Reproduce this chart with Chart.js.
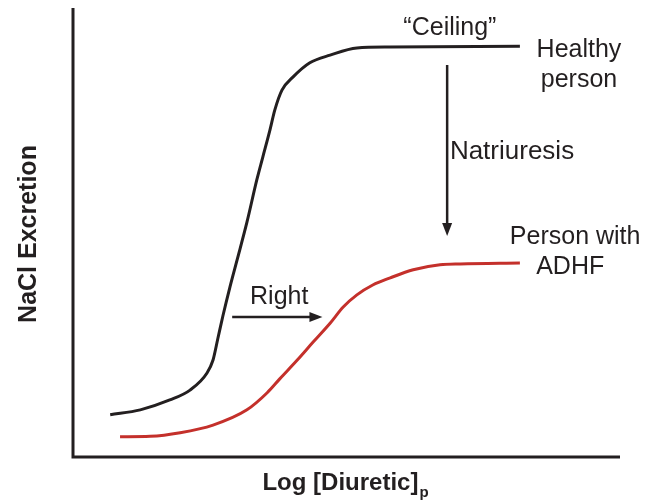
<!DOCTYPE html>
<html>
<head>
<meta charset="utf-8">
<script src="https://cdn.jsdelivr.net/npm/chart.js@4.4.1/dist/chart.umd.min.js"></script>
<style>
  html, body { margin:0; padding:0; background:#fff; }
  #wrap { width:656px; height:503px; }
</style>
</head>
<body>
<div id="wrap"><canvas id="c" width="656" height="503"></canvas></div>
<script>
// curve samples (x: log dose 0-100, y: NaCl excretion 0-100)
const healthyX = [6.8, 12.3, 17.7, 21.4, 24.5, 25.6, 26.5, 27.4, 28.7, 30.0, 31.8, 33.6, 34.7, 36.0, 36.9, 38.2, 40.2, 43.3, 47.0, 51.9, 58.0, 81.7];
const healthyY = [9.4, 10.5, 12.7, 14.9, 18.7, 21.6, 26.5, 31.4, 37.9, 43.9, 52.3, 61.7, 66.8, 72.8, 77.3, 81.7, 84.6, 87.8, 89.5, 91.1, 91.3, 91.5];
const adhfX = [8.6, 14.1, 19.6, 25.6, 31.8, 35.5, 37.8, 41.0, 43.9, 47.0, 49.4, 51.9, 54.8, 58.0, 62.2, 67.1, 70.8, 81.7];
const adhfY = [4.5, 4.6, 5.4, 7.1, 10.5, 14.3, 17.4, 21.6, 25.6, 29.8, 33.4, 36.1, 38.3, 39.9, 41.7, 42.8, 43.0, 43.2];

const INK = '#231f20';
const RED = '#c4302b';
const FONT = "'Liberation Sans', Arial, sans-serif";

const pts = (xs, ys) => xs.map((x, i) => ({ x, y: ys[i] }));

// axes, arrows and text labels
const decor = {
  id: 'decor',
  afterDraw(chart) {
    const { ctx, chartArea: a, scales: { x, y } } = chart;
    ctx.save();
    // axis lines
    ctx.strokeStyle = INK; ctx.lineWidth = 3; ctx.lineCap = 'butt';
    ctx.beginPath();
    ctx.moveTo(a.left, a.top); ctx.lineTo(a.left, a.bottom); ctx.lineTo(a.right, a.bottom);
    ctx.stroke();

    function arrow(x1, y1, x2, y2) {
      const px1 = x.getPixelForValue(x1), py1 = y.getPixelForValue(y1);
      const px2 = x.getPixelForValue(x2), py2 = y.getPixelForValue(y2);
      const ang = Math.atan2(py2 - py1, px2 - px1);
      ctx.strokeStyle = INK; ctx.fillStyle = INK; ctx.lineWidth = 2.5;
      ctx.beginPath(); ctx.moveTo(px1, py1);
      ctx.lineTo(px2 - 8 * Math.cos(ang), py2 - 8 * Math.sin(ang)); ctx.stroke();
      ctx.beginPath();
      ctx.moveTo(px2, py2);
      ctx.lineTo(px2 - 13 * Math.cos(ang) + 5 * Math.sin(ang), py2 - 13 * Math.sin(ang) - 5 * Math.cos(ang));
      ctx.lineTo(px2 - 13 * Math.cos(ang) - 5 * Math.sin(ang), py2 - 13 * Math.sin(ang) + 5 * Math.cos(ang));
      ctx.closePath(); ctx.fill();
    }
    arrow(68.4, 87.3, 68.4, 49.2);   // natriuresis
    arrow(29.1, 31.2, 45.6, 31.2);   // right shift

    function text(s, vx, vy, align, size) {
      ctx.font = (size || 25) + 'px ' + FONT;
      ctx.fillStyle = INK; ctx.textAlign = align; ctx.textBaseline = 'middle';
      ctx.fillText(s, x.getPixelForValue(vx), y.getPixelForValue(vy));
    }
    text('\u201CCeiling\u201D', 68.9, 95.6, 'center', 25);
    text('Healthy', 92.5, 90.6, 'center');
    text('person', 92.5, 84.0, 'center');
    text('Natriuresis', 68.9, 67.9, 'left', 26);
    text('Person with', 91.8, 49.0, 'center');
    text('ADHF', 90.9, 42.3, 'center');
    text('Right', 37.7, 35.6, 'center');

    // axis titles
    ctx.fillStyle = INK; ctx.textBaseline = 'middle';
    ctx.font = 'bold 25px ' + FONT;
    ctx.save();
    ctx.translate(29, 234);
    ctx.rotate(-Math.PI / 2);
    ctx.textAlign = 'center';
    ctx.fillText('NaCl Excretion', 0, 0);
    ctx.restore();

    const main = 'Log [Diuretic]';
    ctx.font = 'bold 24px ' + FONT;
    const w1 = ctx.measureText(main).width;
    ctx.font = 'bold 15px ' + FONT;
    const w2 = ctx.measureText('p').width;
    const sx = 345 - (w1 + w2) / 2;
    ctx.textAlign = 'left';
    ctx.font = 'bold 24px ' + FONT;
    ctx.fillText(main, sx, 483);
    ctx.font = 'bold 15px ' + FONT;
    ctx.fillText('p', sx + w1 + 1, 493);
    ctx.restore();
  }
};

new Chart(document.getElementById('c'), {
  type: 'line',
  data: {
    datasets: [
      { label: 'Healthy person', data: pts(healthyX, healthyY), borderColor: INK, borderWidth: 3,
        pointRadius: 0, fill: false, cubicInterpolationMode: 'monotone' },
      { label: 'Person with ADHF', data: pts(adhfX, adhfY), borderColor: RED, borderWidth: 3,
        pointRadius: 0, fill: false, cubicInterpolationMode: 'monotone' },
    ]
  },
  options: {
    responsive: false, animation: false, devicePixelRatio: 1,
    layout: { padding: { left: 73, right: 36, top: 8, bottom: 46 } },
    plugins: { legend: { display: false }, tooltip: { enabled: false } },
    scales: {
      x: { type: 'linear', min: 0, max: 100, display: false },
      y: { min: 0, max: 100, display: false }
    }
  },
  plugins: [decor]
});
</script>
</body>
</html>
